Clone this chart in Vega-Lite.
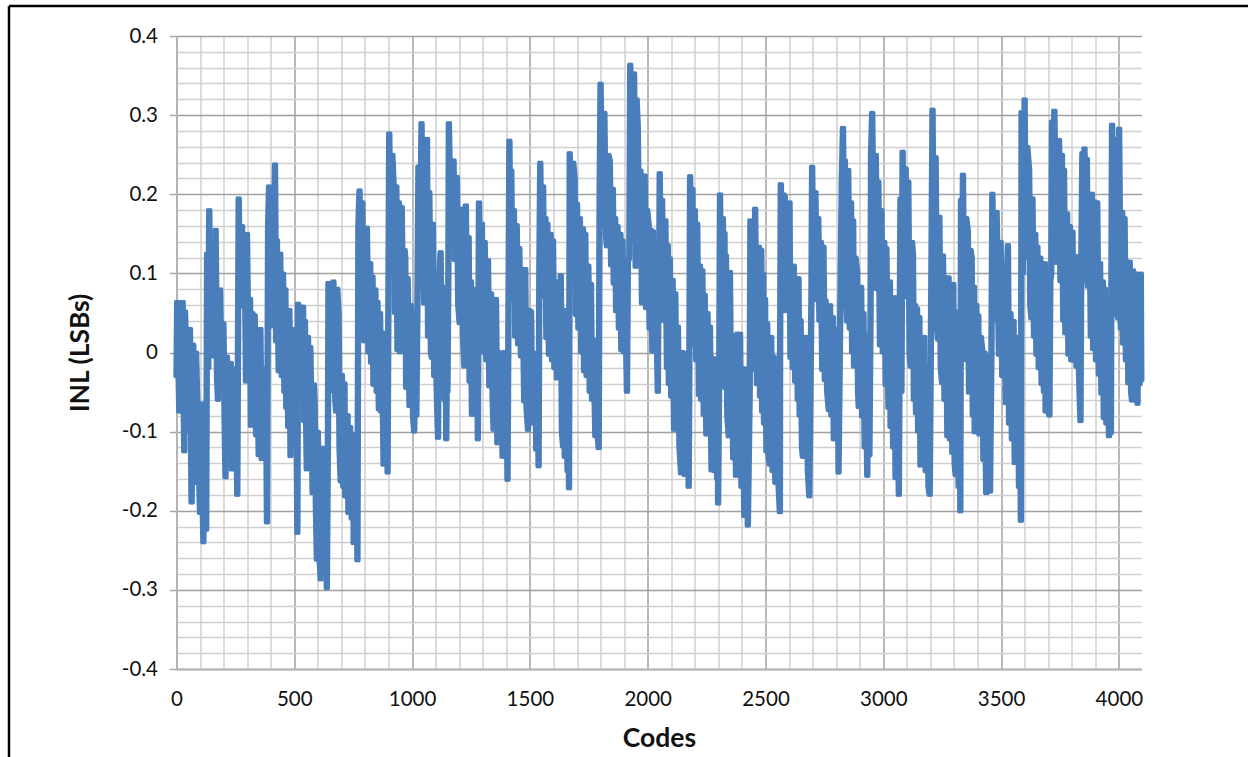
{"$schema":"https://vega.github.io/schema/vega-lite/v6.json","width":965,"height":633,"autosize":{"type":"none"},"padding":{"left":176.5,"top":36,"right":106.5,"bottom":88},"background":"white","config":{"view":{"stroke":null},"font":"Lato"},
"datasets":{"inl":[
[0,-0.03],[3,0.064],[12,-0.075],[26,0.064],[33,-0.125],[36,0.052],[50,-0.1],[57,0.03],[64,-0.19],[71,0.01],[78,-0.165],[83,0],[100,-0.203],[104,-0.064],[114,-0.24],[121,-0.08],[126,-0.224],
[130,0.125],[135,-0.02],[139,0.18],[145,0.02],[153,0.14],[158,-0.005],[166,0.155],[172,-0.03],[176,-0.06],[185,0.08],[192,-0.05],[199,0.037],[205,-0.102],[208,-0.158],[214,-0.005],[222,-0.12],[230,-0.013],[235,-0.148],[244,-0.02],[248,-0.148],[253,-0.03],[258,-0.18],
[264,0.195],[270,0.06],[278,0.16],[284,0.058],[290,0.12],[295,-0.037],[299,0.15],[306,-0.02],[312,0.068],[316,-0.093],[322,0.05],[328,-0.09],[332,0.047],[338,-0.105],[343,0],[349,-0.13],[356,0.03],[362,-0.135],[368,-0.02],[373,-0.026],[378,-0.1],[380,-0.026],[384,-0.215],
[389,0.16],[393,0.21],[400,0.033],[406,0.2],[412,0.05],[418,0.238],[423,0.014],[426,0.142],[434,-0.024],[440,0.125],[447,-0.03],[452,0.1],[458,-0.05],[462,0.08],[466,-0.07],[472,0.05],[474,-0.094],[479,0.054],[484,-0.131],[490,0.03],[495,-0.1],[498,0.008],[504,-0.12],[508,-0.02],[513,-0.228],
[516,0.062],[522,-0.05],[528,0.058],[534,-0.06],[537,0.058],[542,-0.087],[545,0.04],[553,-0.148],[558,0.02],[564,-0.1],[568,0.007],[578,-0.178],[583,-0.04],[586,-0.06],[592,-0.2],[596,-0.262],[600,-0.1],[606,-0.25],[612,-0.287],[617,-0.12],[624,-0.27],[631,-0.14],[638,-0.298],
[643,-0.1],[645,0.088],[652,-0.03],[658,0.085],[662,-0.049],[666,0.09],[674,-0.06],[678,-0.075],[682,0.081],[688,0.05],[692,-0.12],[697,-0.163],[702,-0.028],[708,-0.17],[713,-0.039],[716,-0.182],[726,-0.079],[730,-0.203],[737,-0.094],[744,-0.21],[751,-0.104],[752,-0.241],[756,-0.104],[762,-0.2],[764,-0.104],[768,-0.263],
[772,0.16],[777,0.205],[781,0.079],[789,0.19],[794,0.03],[797,0.014],[808,0.158],[815,0],[822,0.113],[826,-0.013],[832,0.096],[836,-0.041],[844,0.08],[850,-0.05],[853,0.064],[859,-0.072],[864,0.05],[868,-0.075],[872,0.026],[879,-0.142],[886,0],[890,-0.13],[894,0],[896,-0.152],
[900,0.1],[903,0.277],[910,0.098],[916,0.25],[921,0.216],[927,0.05],[933,0.21],[938,0.003],[944,0.19],[949,0],[956,0.184],[962,0.02],[968,0.13],[971,0.119],[975,-0.045],[981,0.094],[989,-0.068],[994,0.06],[999,0.043],[1004,-0.08],[1009,-0.1],[1014,0.04],[1018,-0.08],[1022,0.04],
[1027,0.235],[1032,0.08],[1040,0.29],[1046,0.1],[1051,0.062],[1056,0.25],[1063,0.27],[1068,0.02],[1073,0.203],[1080,0],[1084,-0.007],[1088,0.163],[1094,-0.03],[1098,0.1],[1104,-0.04],[1110,-0.108],[1114,0.09],[1121,0.127],[1127,-0.05],[1131,0.083],[1137,-0.06],[1142,0.054],[1145,-0.11],[1149,0.04],[1150,-0.05],
[1154,0.1],[1156,0.29],[1164,0.16],[1169,0.14],[1176,0.243],[1180,0.117],[1190,0.222],[1196,0.06],[1202,0.037],[1211,0.182],[1216,0.02],[1222,-0.018],[1228,0.186],[1235,-0.01],[1240,0.146],[1244,-0.037],[1250,0.09],[1254,-0.079],[1258,0.081],[1264,0.07],[1268,-0.06],[1275,0.045],[1279,-0.11],
[1282,0.06],[1284,0.19],[1290,0.03],[1296,0.163],[1300,0],[1308,0.14],[1315,-0.01],[1322,0.117],[1328,-0.043],[1335,0.075],[1342,-0.06],[1346,-0.098],[1350,0.06],[1356,0.068],[1362,-0.115],[1367,0.001],[1374,-0.11],[1381,-0.01],[1384,-0.132],[1392,0.001],[1396,-0.13],[1400,0],[1405,-0.161],
[1410,0.1],[1413,0.268],[1418,0.08],[1421,0.23],[1426,0.066],[1432,0.18],[1438,0.02],[1444,0.161],[1450,0.01],[1455,0.132],[1462,-0.005],[1468,0.106],[1476,-0.062],[1480,0.106],[1486,-0.07],[1492,-0.098],[1495,0.054],[1505,0.052],[1510,-0.09],[1515,0],[1523,-0.007],[1527,-0.123],[1532,-0.01],[1537,-0.144],
[1540,0.1],[1544,0.24],[1550,0.07],[1556,0.21],[1560,0.079],[1566,0.17],[1570,0.018],[1574,0.163],[1581,-0.003],[1588,0.15],[1594,-0.01],[1598,0.142],[1604,-0.02],[1611,0.09],[1615,-0.033],[1620,0.079],[1626,-0.03],[1631,0.098],[1636,-0.1],[1641,-0.119],[1643,0.054],[1648,-0.132],[1653,0.012],[1660,-0.15],[1664,0],[1666,-0.172],
[1669,0.252],[1674,0.09],[1679,0.096],[1684,0.24],[1690,0.22],[1694,0.05],[1697,0.047],[1700,0.188],[1706,0.03],[1712,0.17],[1718,0],[1725,0.157],[1730,-0.024],[1735,0.15],[1741,-0.03],[1748,0.11],[1754,-0.05],[1759,0.087],[1764,-0.06],[1770,0.016],[1774,-0.05],[1778,-0.106],[1782,0.016],[1787,-0.1],[1792,-0.121],
[1796,0.2],[1800,0.34],[1806,0.2],[1809,0.159],[1812,0.28],[1816,0.303],[1822,0.15],[1827,0.134],[1833,0.25],[1839,0.243],[1845,0.11],[1852,0.207],[1856,0.087],[1862,0.17],[1866,0.052],[1872,0.16],[1878,0.03],[1884,0.15],[1888,0.003],[1893,0.142],[1899,0],[1905,0.115],[1909,0],[1912,-0.05],[1916,0.115],
[1922,0.12],[1926,0.364],[1931,0.142],[1936,0.34],[1942,0.353],[1949,0.108],[1953,0.32],[1958,0.283],[1964,0.12],[1969,0.23],[1976,0.062],[1981,0.22],[1987,0.224],[1993,0.056],[1998,0.18],[2004,0.161],[2008,0.03],[2014,0.155],[2020,0.001],[2024,0.153],[2030,0.02],[2034,0.138],[2040,0],[2043,-0.05],[2046,0.1],
[2049,0.1],[2051,0.227],[2057,0.04],[2061,0.193],[2068,0.04],[2075,0.167],[2082,-0.02],[2085,0.136],[2090,-0.04],[2094,0.119],[2100,-0.056],[2106,0.092],[2112,-0.098],[2117,0.075],[2122,-0.07],[2128,0.033],[2135,-0.12],[2142,-0.153],[2146,0.001],[2152,-0.14],[2157,-0.155],[2160,0],[2164,-0.01],[2169,-0.15],[2172,0],[2174,-0.17],
[2177,0],[2180,0.223],[2186,0.03],[2190,0.207],[2193,0.009],[2200,0.18],[2206,-0.01],[2210,0.163],[2218,-0.054],[2222,0.11],[2227,-0.06],[2232,0.104],[2238,-0.079],[2242,0.073],[2249,-0.104],[2254,0.05],[2259,-0.1],[2264,0.033],[2271,-0.149],[2278,-0.007],[2284,-0.15],[2290,-0.02],[2295,-0.16],[2297,-0.022],[2299,-0.191],
[2304,0],[2307,0.2],[2313,-0.02],[2319,0.17],[2323,0],[2326,0.151],[2329,-0.045],[2332,0.123],[2338,-0.08],[2344,-0.106],[2349,0.102],[2355,-0.1],[2358,0.022],[2363,-0.134],[2368,0.02],[2375,-0.156],[2380,0.024],[2387,-0.1],[2392,0.024],[2398,-0.17],[2404,-0.02],[2410,-0.207],[2414,-0.02],[2420,-0.19],[2424,-0.04],[2425,-0.219],
[2433,-0.05],[2436,0.167],[2444,-0.02],[2449,0.14],[2453,-0.022],[2456,0.182],[2464,-0.04],[2472,0.134],[2477,-0.056],[2482,0.13],[2486,-0.075],[2490,0.1],[2494,-0.09],[2498,0.068],[2504,-0.125],[2507,0.037],[2513,-0.13],[2518,-0.142],[2524,0.02],[2530,-0.15],[2535,-0.005],[2542,-0.165],[2552,-0.026],[2556,-0.17],[2561,-0.202],
[2562,0],[2565,0.213],[2571,0.06],[2576,0.2],[2582,0.197],[2585,0.052],[2595,0.18],[2602,0.19],[2606,-0.007],[2611,0.11],[2616,-0.02],[2620,0.11],[2626,-0.037],[2632,0.094],[2637,-0.06],[2640,0.094],[2645,-0.08],[2649,0.041],[2655,-0.12],[2659,-0.132],[2664,0.02],[2670,-0.132],[2675,0.02],[2680,-0.15],[2686,-0.182],
[2695,0.07],[2698,0.235],[2704,0.07],[2712,0.203],[2717,0.066],[2724,0.17],[2729,0.04],[2735,0.14],[2741,-0.022],[2746,0.134],[2752,-0.035],[2755,0.066],[2762,-0.05],[2769,-0.073],[2774,0.06],[2780,-0.08],[2786,0.045],[2790,-0.11],[2796,0.03],[2802,0.003],[2806,-0.1],[2808,0],[2810,-0.152],
[2820,0.12],[2824,0.22],[2829,0.284],[2833,0.113],[2837,0.243],[2842,0.06],[2847,0.039],[2851,0.231],[2858,0.03],[2863,0.19],[2868,0],[2872,0.167],[2876,-0.018],[2882,0.12],[2889,0.102],[2893,-0.05],[2896,-0.069],[2901,0.083],[2906,0.083],[2910,-0.081],[2916,0.05],[2921,-0.12],[2925,0.022],[2932,-0.156],[2937,0.018],[2941,-0.13],
[2946,0.05],[2948,0.25],[2953,0.303],[2960,0.081],[2968,0.25],[2974,0.08],[2979,0.216],[2986,0.009],[2992,0.18],[2998,0],[3004,0.14],[3010,-0.041],[3013,0.132],[3022,-0.07],[3028,0.09],[3031,-0.094],[3034,0.07],[3042,-0.12],[3048,0.07],[3052,-0.159],[3058,0.041],[3066,-0.18],[3070,0.04],
[3073,0.195],[3077,-0.05],[3082,0.254],[3090,0.07],[3095,0.233],[3098,0.07],[3106,0.216],[3112,0],[3116,-0.018],[3122,0.14],[3126,0.123],[3130,-0.06],[3135,0.06],[3139,-0.077],[3143,0.056],[3148,-0.1],[3153,0.045],[3158,-0.143],[3164,0.02],[3170,-0.1],[3174,0.02],[3180,-0.15],[3187,-0.016],[3192,-0.17],[3197,-0.18],
[3203,0.05],[3209,0.307],[3215,0.056],[3222,0.247],[3228,0.03],[3233,0.016],[3238,0.172],[3244,-0.02],[3250,-0.039],[3253,0.123],[3260,-0.06],[3266,0.095],[3272,-0.106],[3277,0.095],[3283,-0.11],[3288,0.087],[3293,-0.127],[3297,0.087],[3303,-0.14],[3307,-0.155],[3312,0.052],[3320,-0.17],[3324,0.03],[3327,-0.201],
[3330,0.193],[3334,0],[3338,0.225],[3345,-0.01],[3352,0.17],[3359,0.153],[3364,-0.051],[3370,0.13],[3375,0.121],[3380,-0.08],[3385,0.083],[3388,-0.101],[3395,0.06],[3400,-0.1],[3403,0.047],[3408,-0.104],[3414,0.02],[3420,0.003],[3425,-0.136],[3430,0],[3437,-0.178],[3442,-0.005],[3448,-0.176],[3450,-0.01],[3453,-0.176],
[3459,0],[3463,0.201],[3470,0.04],[3477,0.045],[3481,0.178],[3491,-0.003],[3498,0.14],[3505,-0.03],[3511,0.11],[3517,0.108],[3520,-0.064],[3525,0.1],[3529,0.136],[3534,-0.09],[3540,0.05],[3546,-0.11],[3553,0.04],[3558,-0.14],[3565,0.02],[3572,0.02],[3576,-0.17],[3580,0],[3584,-0.213],
[3587,0.304],[3593,0.1],[3600,0.32],[3604,0.119],[3611,0.26],[3619,0.231],[3624,0.06],[3629,0.043],[3633,0.195],[3640,0.02],[3645,0.15],[3650,-0.003],[3654,0.134],[3660,-0.02],[3666,0.12],[3672,-0.04],[3677,0.113],[3682,-0.05],[3686,0.113],[3689,-0.075],[3694,0.1],[3700,-0.07],[3705,-0.08],[3709,0.09],
[3713,0.1],[3716,0.292],[3721,0.12],[3726,0.306],[3736,0.113],[3746,0.269],[3752,0.09],[3758,0.25],[3764,0.04],[3767,0.231],[3773,0.024],[3780,0.176],[3786,-0.003],[3792,0.16],[3798,-0.01],[3803,0.153],[3808,-0.01],[3815,0.122],[3820,-0.018],[3824,0.122],[3830,-0.018],[3837,-0.087],
[3840,0.1],[3845,0.252],[3850,0.1],[3854,0.258],[3860,0.09],[3864,0.245],[3868,0.083],[3875,0.2],[3881,0.02],[3885,0.201],[3891,0.004],[3897,0.191],[3903,-0.01],[3908,0.19],[3915,-0.028],[3920,0.113],[3926,-0.052],[3932,0.09],[3936,-0.083],[3941,0.081],[3947,-0.09],[3952,0.071],[3958,-0.106],[3962,0.06],[3966,-0.102],
[3968,0.07],[3971,0.288],[3978,0.06],[3984,0.27],[3990,0.05],[3997,0.043],[4001,0.283],[4008,0.03],[4014,0.178],[4018,0.011],[4024,0.17],[4030,-0.01],[4036,0.115],[4040,-0.039],[4046,0.115],[4052,-0.05],[4056,-0.061],[4060,0.104],[4066,-0.06],[4072,0.1],[4079,-0.065],[4083,0.094],[4088,-0.04],[4093,0.1],[4095,-0.035]
]},
"layer":[
{"data":{"name":"inl"},
"transform":[{"calculate":"datum[0]","as":"code"},{"calculate":"datum[1]","as":"inl"}],
"mark":{"type":"line","color":"#4a7ebb","strokeWidth":4,"strokeCap":"round","strokeJoin":"round","xOffset":-1.2},
"encoding":{
"x":{"field":"code","type":"quantitative","title":"Codes","scale":{"domain":[0,4096],"nice":false,"zero":false},
 "axis":{"tickCount":41,"values":[0,100,200,300,400,500,600,700,800,900,1000,1100,1200,1300,1400,1500,1600,1700,1800,1900,2000,2100,2200,2300,2400,2500,2600,2700,2800,2900,3000,3100,3200,3300,3400,3500,3600,3700,3800,3900,4000],
 "labelExpr":"datum.value%500===0?''+datum.value:''","labelOverlap":false,"labelFlush":false,"labelFont":"Lato","labelFontSize":20.5,"labelColor":"#111","labelPadding":20,"ticks":false,"domainColor":"#b4b4b4","domainWidth":2,
 "grid":true,"gridWidth":1.5,"gridColor":{"condition":{"test":"datum.value%500===0","value":"#a0a0a0"},"value":"#cfcfcf"},
 "titleFont":"Lato","titleFontWeight":"bold","titleFontSize":26.5,"titleColor":"#111","titlePadding":16}},
"y":{"field":"inl","type":"quantitative","title":"INL (LSBs)","scale":{"domain":[-0.4,0.4],"nice":false,"zero":false},
 "axis":{"tickCount":41,"values":[-0.4,-0.38,-0.36,-0.34,-0.32,-0.3,-0.28,-0.26,-0.24,-0.22,-0.2,-0.18,-0.16,-0.14,-0.12,-0.1,-0.08,-0.06,-0.04,-0.02,0,0.02,0.04,0.06,0.08,0.1,0.12,0.14,0.16,0.18,0.2,0.22,0.24,0.26,0.28,0.3,0.32,0.34,0.36,0.38,0.4],
 "labelExpr":"abs(datum.value*10-round(datum.value*10))<0.001?''+round(datum.value*10)/10:''","labelOverlap":false,"labelFlush":false,"labelFont":"Lato","labelFontSize":20.5,"labelColor":"#111","labelPadding":12,"tickSize":7,"tickWidth":1.5,"tickColor":"#a6a6a6","tickOpacity":{"condition":{"test":"abs(datum.value*10-round(datum.value*10))<0.001","value":1},"value":0},"domainColor":"#b4b4b4","domainWidth":2,
 "grid":true,"gridWidth":1.5,"gridColor":{"condition":{"test":"abs(datum.value*10-round(datum.value*10))<0.001","value":"#a0a0a0"},"value":"#cfcfcf"},
 "titleFont":"Lato","titleFontWeight":"bold","titleFontSize":26.5,"titleColor":"#111","titlePadding":27}}
}},
{"data":{"name":"inl"},
"transform":[{"calculate":"datum[0]","as":"code"},{"calculate":"datum[1]","as":"inl"}],
"mark":{"type":"line","color":"#4a7ebb","strokeWidth":4,"strokeCap":"round","strokeJoin":"round","xOffset":1.2},
"encoding":{"x":{"field":"code","type":"quantitative"},"y":{"field":"inl","type":"quantitative"}}},
{"data":{"values":[{}]},"mark":{"type":"rule","color":"black","strokeWidth":2.5,"clip":false},"encoding":{"x":{"datum":-711,"type":"quantitative"},"x2":{"datum":4560},"y":{"datum":0.4379,"type":"quantitative"}}},
{"data":{"values":[{}]},"mark":{"type":"rule","color":"black","strokeWidth":2.5,"clip":false},"encoding":{"x":{"datum":-711,"type":"quantitative"},"y":{"datum":0.4379,"type":"quantitative"},"y2":{"datum":-0.52}}}
]}
